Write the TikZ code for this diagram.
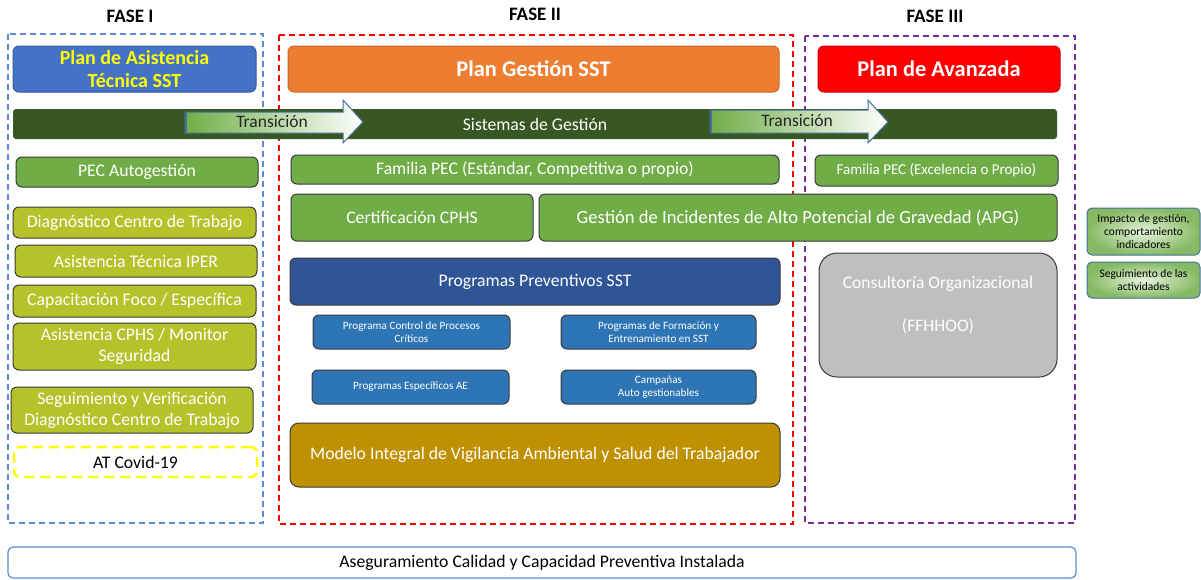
\documentclass[tikz,border=0pt]{standalone}
\usepackage{fontspec}
\setmainfont{Carlito}
\usetikzlibrary{shapes.geometric}
\definecolor{cBlue}{HTML}{4472C4}
\definecolor{cOrange}{HTML}{ED7D31}
\definecolor{cRed}{HTML}{FF0000}
\definecolor{cDark}{HTML}{385723}
\definecolor{cGreen}{HTML}{70AD47}
\definecolor{cOlive}{HTML}{B5C22A}
\definecolor{cNavy}{HTML}{2F5597}
\definecolor{cMid}{HTML}{2E75B6}
\definecolor{cGold}{HTML}{BF9000}
\definecolor{cGray}{HTML}{BFBFBF}
\definecolor{cPurple}{HTML}{7030A0}
\definecolor{cFrameBlue}{HTML}{5B8BD5}
\definecolor{cLine}{HTML}{3A3A3A}
\definecolor{cArrowLine}{HTML}{41719C}
\definecolor{cLightGreen}{HTML}{E6F3DC}
\definecolor{cYellow}{HTML}{FFFF00}
\tikzset{
  box/.style={draw=cLine, line width=1pt, rounded corners=6pt, inner sep=0pt,
    align=center, text=white, font=\fontsize{17.7}{21}\selectfont},
  frame/.style={line width=1.4pt, dash pattern=on 6pt off 4pt},
  fase/.style={font=\bfseries\fontsize{19}{21}\selectfont, text=black},
  side/.style={draw=cArrowLine, line width=1pt, rounded corners=5pt, inner sep=0pt,
    align=center, text=black, inner color=cLightGreen, outer color=cGreen!85,
    font=\fontsize{11.5}{13}\selectfont},
  sub/.style={box, fill=cMid, font=\fontsize{11.2}{12.6}\selectfont},
  trans/.style={font=\fontsize{17.5}{19}\selectfont, text=black!85},
}
\begin{document}
\begin{tikzpicture}[x=1pt, y=-1pt]
\useasboundingbox[fill=white] (0,0) rectangle (1201,579);

% phase titles
\node[fase] (f1) at (130,16) {FASE I};
\node[fase] (f2) at (535,14) {FASE II};
\node[fase] (f3) at (935,16) {FASE III};

% dashed frames
\draw[frame, draw=cFrameBlue] (8,34) rectangle (263,523);
\draw[frame, draw=cRed] (279,35) rectangle (793,524);
\draw[frame, draw=cPurple] (805,36) rectangle (1075,523);

% plan headers
\node[box, fill=cBlue, draw=cBlue!80!black, minimum width=243pt, minimum height=46pt,
  text=cYellow, font=\bfseries\fontsize{20}{23}\selectfont] (pas) at (134.5,69)
  {Plan de Asistencia\\Técnica SST};
\node[box, fill=cOrange, draw=cOrange!85!black, minimum width=491pt, minimum height=46pt,
  font=\bfseries\fontsize{22.4}{24}\selectfont] (pgs) at (533.5,69) {Plan Gestión SST};
\node[box, fill=cRed, draw=cRed!80!black, minimum width=242pt, minimum height=46pt,
  font=\bfseries\fontsize{22.4}{24}\selectfont] (pav) at (939,69) {Plan de Avanzada};

% management systems bar
\node[box, draw=none, fill=cDark, rounded corners=3pt, minimum width=1044pt, minimum height=30pt]
  (bar) at (535,124) {Sistemas de Gestión};

% transition arrows
\path[draw=cArrowLine, line width=1pt, left color=cGreen, right color=white]
  (185,112) -- (343,112) -- (343,100) -- (363,122) -- (343,143) -- (343,133) -- (185,133) -- cycle;
\draw[cArrowLine, line width=2pt] (186,112) -- (186,133);
\node[trans] (t1) at (272,122) {Transición};
\path[draw=cArrowLine, line width=1pt, left color=cGreen, right color=white]
  (710,110) -- (868,110) -- (868,100) -- (888,122) -- (868,143) -- (868,133) -- (710,133) -- cycle;
\draw[cArrowLine, line width=2pt] (711,110) -- (711,133);
\node[trans] (t2) at (797,121) {Transición};

% phase I column
\node[box, fill=cGreen, minimum width=242pt, minimum height=30pt] (pec1) at (137,172) {PEC Autogestión};
\node[box, fill=cOlive, minimum width=243pt, minimum height=31pt] (diag) at (134.5,222.5) {Diagnóstico Centro de Trabajo};
\node[box, fill=cOlive, minimum width=242pt, minimum height=32pt] (iper) at (136,261) {Asistencia Técnica IPER};
\node[box, fill=cOlive, minimum width=243pt, minimum height=32pt] (capa) at (134.5,301) {Capacitación Foco / Específica};
\node[box, fill=cOlive, minimum width=243pt, minimum height=47pt] (cphs1) at (134.5,346.5) {Asistencia CPHS / Monitor\\Seguridad};
\node[box, fill=cOlive, minimum width=242pt, minimum height=46pt] (segv) at (132,410) {Seguimiento y Verificación\\Diagnóstico Centro de Trabajo};
\node[box, draw=cYellow, line width=2.5pt, dash pattern=on 10pt off 6pt, fill=white, text=black,
  minimum width=243pt, minimum height=30pt] (covid) at (135.5,462) {AT Covid-19};

% phase II column
\node[box, fill=cGreen, minimum width=488pt, minimum height=29pt] (fam2) at (535,169.5) {Familia PEC (Estándar, Competitiva o propio)};
\node[box, fill=cGreen, minimum width=242pt, minimum height=47pt] (cert) at (412,217.5) {Certificación CPHS};
\node[box, fill=cGreen, minimum width=518pt, minimum height=47pt, font=\fontsize{18.6}{20}\selectfont] (apg) at (798,217.5) {Gestión de Incidentes de Alto Potencial de Gravedad (APG)};
\node[box, fill=cNavy, minimum width=490pt, minimum height=47pt] (prog) at (535,281.5) {Programas Preventivos SST};
\node[sub, minimum width=197pt, minimum height=34pt] (pcp) at (411.5,332) {Programa Control de Procesos\\Críticos};
\node[sub, minimum width=195pt, minimum height=34pt] (pfe) at (658.5,332) {Programas de Formación y\\Entrenamiento en SST};
\node[sub, minimum width=197pt, minimum height=34pt] (pae) at (410.5,387) {Programas Específicos AE};
\node[sub, minimum width=195pt, minimum height=34pt] (camp) at (658.5,387) {Campañas\\Auto gestionables};
\node[box, fill=cGold, minimum width=490pt, minimum height=64pt, rounded corners=9pt] (modelo) at (535,455) {Modelo Integral de Vigilancia Ambiental y Salud del Trabajador};

% phase III column
\node[box, fill=cGreen, minimum width=243pt, minimum height=31pt, font=\fontsize{15}{17}\selectfont] (fam3) at (936.5,170.5) {Familia PEC (Excelencia o Propio)};
\node[box, fill=cGray, minimum width=238pt, minimum height=124pt, rounded corners=18pt] (cons) at (938,315) {};
\node[text=white, font=\fontsize{17.6}{19}\selectfont] (cons1) at (938,284) {Consultoría Organizacional};
\node[text=white, font=\fontsize{17.6}{19}\selectfont] (cons2) at (938,326) {(FFHHOO)};

% side legend
\node[side, minimum width=113pt, minimum height=47pt] (imp) at (1143.5,231.5) {Impacto de gestión,\\comportamiento\\indicadores};
\node[side, minimum width=113pt, minimum height=36pt] (segact) at (1143.5,280) {Seguimiento de las\\actividades};

% bottom bar
\node[box, draw=cFrameBlue, line width=1.2pt, fill=white, text=black, rounded corners=5pt,
  minimum width=1068pt, minimum height=31pt] (ase) at (542,562.5)
  {Aseguramiento Calidad y Capacidad Preventiva Instalada};
\end{tikzpicture}
\end{document}
